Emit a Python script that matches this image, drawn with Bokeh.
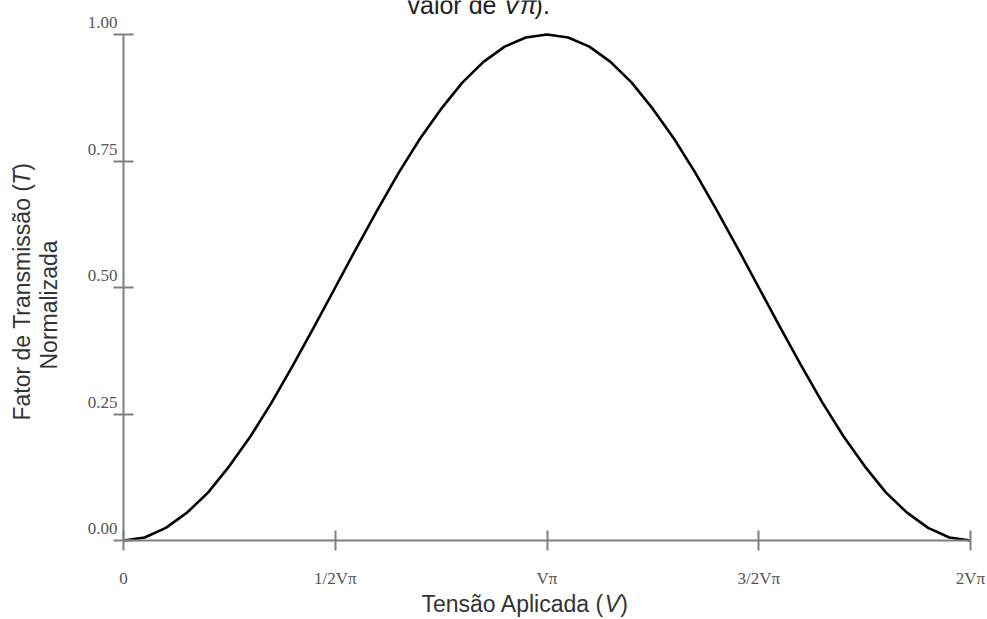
import numpy as np
from bokeh.plotting import figure
from bokeh.models import Range1d, FixedTicker, Label, LinearAxis
from bokeh.embed import file_html
from bokeh.resources import INLINE

# Data (x in units of V_pi, T normalised)
volts = [0.00, 0.05, 0.10, 0.15, 0.20, 0.25, 0.30, 0.35, 0.40, 0.45,
         0.50, 0.55, 0.60, 0.65, 0.70, 0.75, 0.80, 0.85, 0.90, 0.95,
         1.00, 1.05, 1.10, 1.15, 1.20, 1.25, 1.30, 1.35, 1.40, 1.45,
         1.50, 1.55, 1.60, 1.65, 1.70, 1.75, 1.80, 1.85, 1.90, 1.95, 2.00]
transmission = [0.000, 0.006, 0.025, 0.055, 0.095, 0.147, 0.206, 0.273, 0.346, 0.422,
                0.500, 0.578, 0.654, 0.727, 0.794, 0.853, 0.905, 0.946, 0.976, 0.994,
                1.000, 0.994, 0.976, 0.946, 0.905, 0.853, 0.794, 0.727, 0.654, 0.578,
                0.500, 0.422, 0.346, 0.273, 0.206, 0.147, 0.095, 0.055, 0.025, 0.006, 0.000]

x_ticks = [0, 0.5, 1, 1.5, 2]
x_tick_labels = ["0", "1/2V\u03c0", "V\u03c0", "3/2V\u03c0", "2V\u03c0"]
y_ticks = [0, 0.25, 0.5, 0.75, 1.0]
y_tick_labels = ["0.00", "0.25", "0.50", "0.75", "1.00"]

W, H = 987, 619
# pixel position of the data area inside the canvas
PL, PR, PT, PB = 123, 970, 34, 540
sx = 2.0 / (PR - PL)
sy = 1.0 / (PB - PT)

p = figure(width=W, height=H, output_backend="svg", toolbar_location=None,
           x_range=Range1d(-PL * sx, 2 + (W - PR) * sx),
           y_range=Range1d(-(H - PB) * sy, 1 + PT * sy),
           x_axis_type=None, y_axis_type=None,
           min_border=0,
           background_fill_color="white", border_fill_color="white")
p.outline_line_color = None
p.grid.visible = False

axis_col = "#808080"
lab_col = "#555555"

def style(ax):
    ax.axis_line_color = axis_col
    ax.axis_line_width = 2
    ax.major_tick_line_color = axis_col
    ax.major_tick_line_width = 2
    ax.major_tick_in = 10
    ax.major_tick_out = 10
    ax.minor_tick_line_color = None
    ax.major_label_text_font = "Liberation Serif"
    ax.major_label_text_font_size = "17px"
    ax.major_label_text_color = lab_col

xax = LinearAxis(ticker=FixedTicker(ticks=x_ticks), fixed_location=0, bounds=(0, 2))
style(xax)
xax.major_label_overrides = {t: l for t, l in zip(x_ticks, x_tick_labels)}
xax.major_label_standoff = 18
p.add_layout(xax, "below")

yax = LinearAxis(ticker=FixedTicker(ticks=y_ticks), fixed_location=0, bounds=(0, 1))
style(yax)
yax.major_label_overrides = {t: "" for t in y_ticks}
p.add_layout(yax, "left")

# tick labels of the y axis sit a little above their ticks in the reference
lift = 12 * sy
y_label_pos = [t + lift for t in y_ticks]
ylab = LinearAxis(ticker=FixedTicker(ticks=y_label_pos), fixed_location=0)
style(ylab)
ylab.axis_line_color = None
ylab.major_tick_line_color = None
ylab.major_tick_in = 0
ylab.major_tick_out = 0
ylab.major_label_standoff = 6
ylab.major_label_overrides = {t: l for t, l in zip(y_label_pos, y_tick_labels)}
p.add_layout(ylab, "left")

p.line(volts, transmission, line_color="black", line_width=2.6)

# helper: label positioned in canvas pixel coordinates (py = wanted baseline)
def add_text(text, px, py, size, italic=False, angle=0.0, color="#333333"):
    corr = 0.42 * size  # renderer places text this much below the wanted baseline
    if angle:
        px -= corr
    else:
        py -= corr
    p.add_layout(Label(x=px, y=py, x_units="canvas", y_units="canvas",
                       text=text, text_font="Liberation Sans",
                       text_font_size=f"{size}px",
                       text_font_style="italic" if italic else "normal",
                       text_color=color, text_align="left",
                       text_baseline="alphabetic", angle=angle))

# title cropped at the top edge, as in the reference
fs = 25
x0 = 407
add_text("valor de ", x0, 15, fs, color="#222222")
x1 = x0 + 3835 * fs / 1000
add_text("V\u03c0", x1, 15, fs, italic=True, color="#222222")
x2 = x1 + (667 + 580) * fs / 1000
add_text(").", x2, 15, fs, color="#222222")

# x axis title
fs = 23
x0 = 421
add_text("Tens\u00e3o Aplicada (", x0, 613, fs)
x1 = x0 + 8059 * fs / 1000 - 2
add_text("V", x1, 613, fs, italic=True)
add_text(")", x1 + 667 * fs / 1000, 613, fs)

# y axis title (two lines, rotated)
ang = np.pi / 2
y0 = 420
add_text("Fator de Transmiss\u00e3o (", 31, y0, fs, angle=ang)
y1 = y0 - 10336 * fs / 1000 + 2
add_text("T", 31, y1, fs, italic=True, angle=ang)
add_text(")", 31, y1 - 611 * fs / 1000, fs, angle=ang)
add_text("Normalizada", 58, 369, fs, angle=ang)

open("out.html", "w").write(file_html(p, INLINE))
